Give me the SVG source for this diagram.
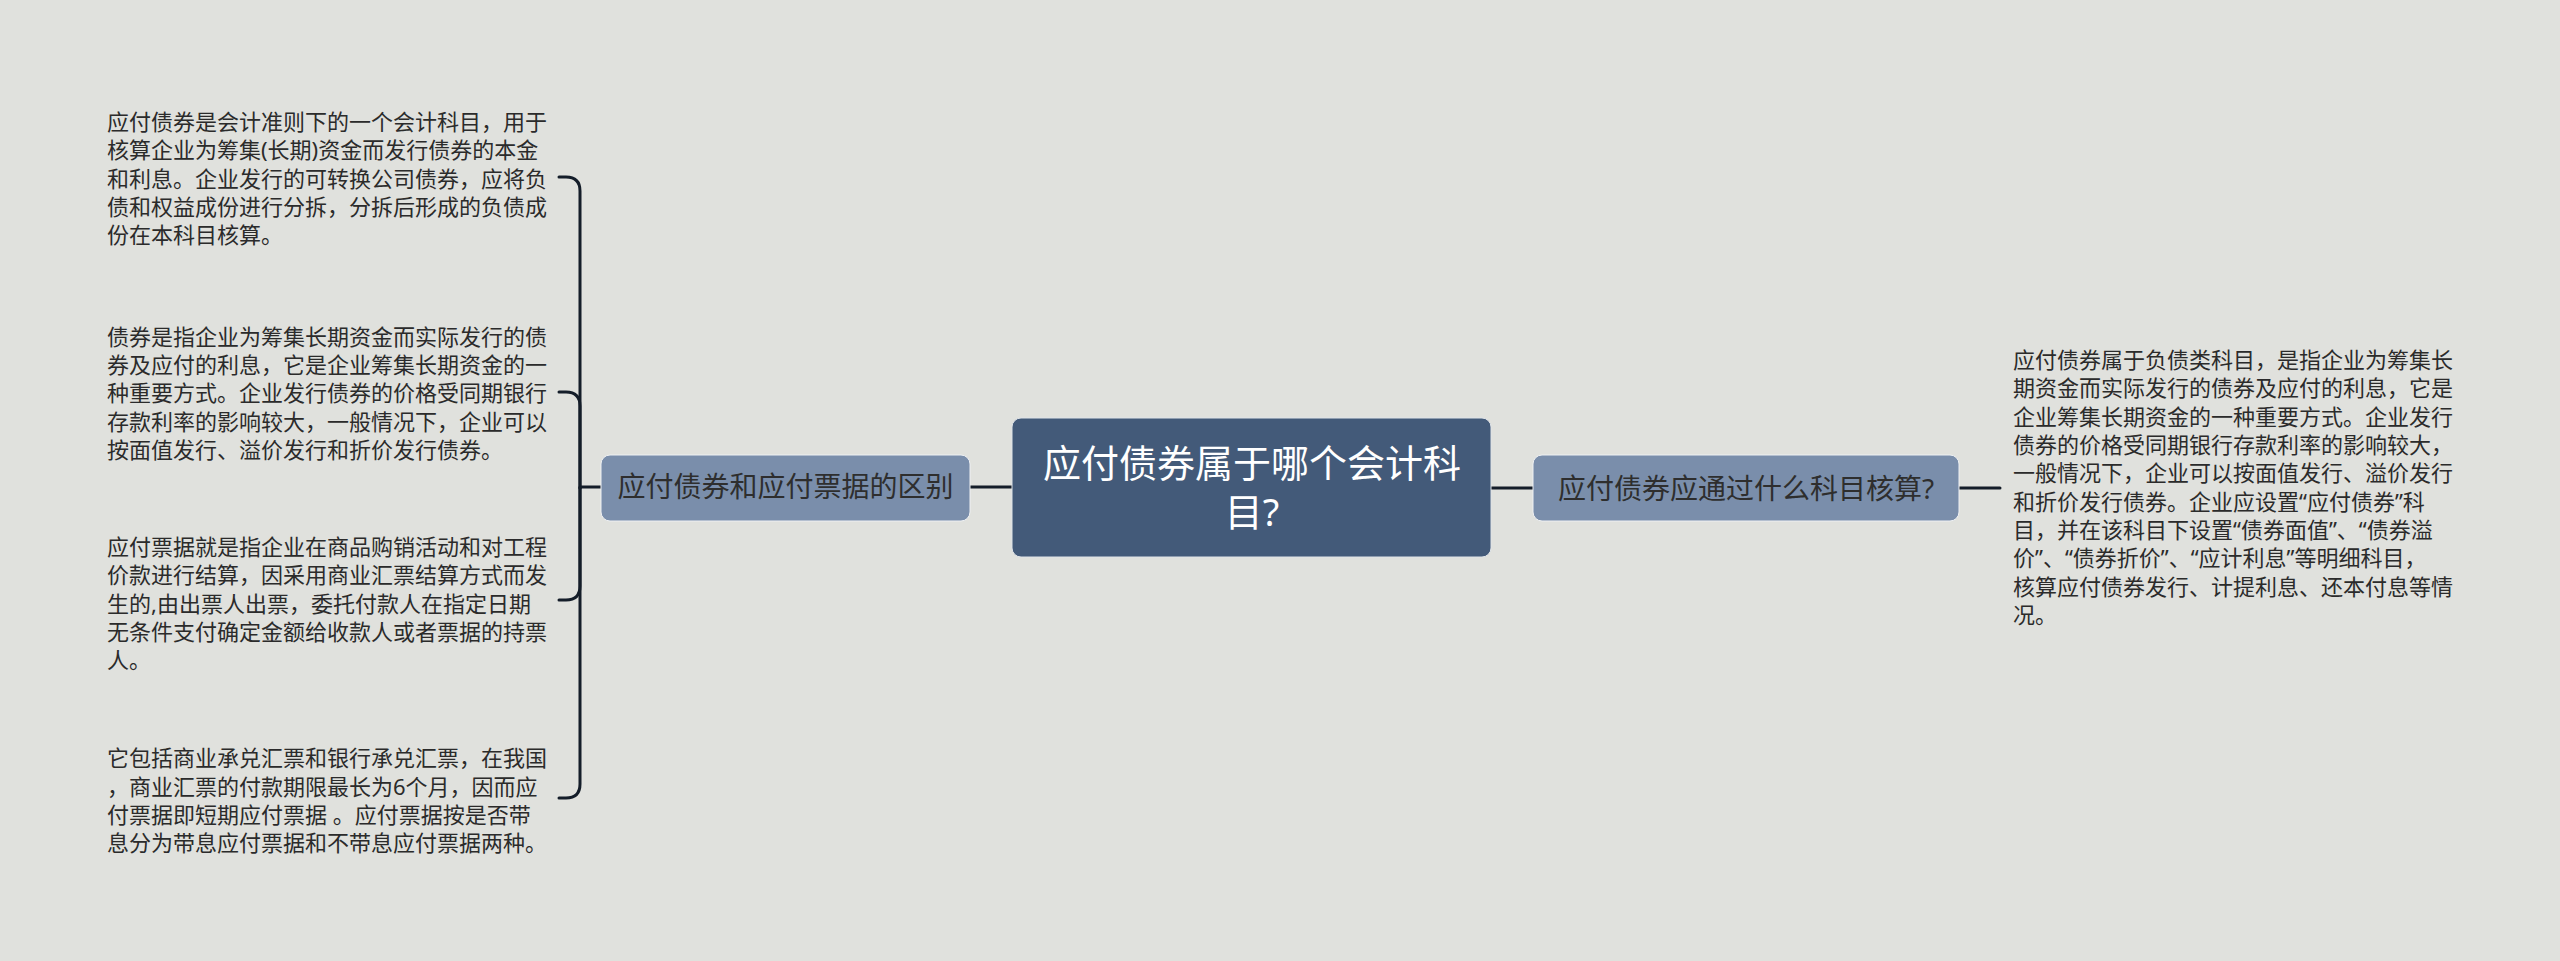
<svg xmlns="http://www.w3.org/2000/svg" width="2560" height="961" viewBox="0 0 2560 961">
<style>
.bg{fill:#e0e1dd}
.conn{fill:none;stroke:#141d29;stroke-width:3;stroke-linecap:round}
.root rect{fill:#435a79;stroke:#dfe3e8;stroke-width:1}
.sub rect{fill:#7a8eab;stroke:#eef0f3;stroke-width:1}
.t{font-family:"Noto Sans","Noto Sans CJK SC",sans-serif}
.rt{fill:#ffffff;font-size:38px}
.st{fill:#2e2e2e;font-size:28px}
.body{fill:#2b2b2b;font-size:22px}
</style>
<rect class="bg" x="0" y="0" width="2560" height="961"/>
<g id="connectors">
<path class="conn" d="M1012,487 H970"/>
<path class="conn" d="M601,487 H580"/>
<path class="conn" d="M580,488 V191 Q580,177 566,177 H559"/>
<path class="conn" d="M580,488 V406 Q580,392 566,392 H559"/>
<path class="conn" d="M580,488 V586 Q580,600 566,600 H559"/>
<path class="conn" d="M580,488 V784 Q580,798 566,798 H559"/>
<path class="conn" d="M1491,488 H1533"/>
<path class="conn" d="M1959,488 H2000"/>
</g>
<g id="root" class="root">
<rect x="1012" y="418" width="479" height="139" rx="9"/>
<text class="t rt" text-anchor="middle"><tspan x="1252" y="477">应付债券属于哪个会计科</tspan><tspan x="1252" y="526">目?</tspan></text>
</g>
<g id="left-main" class="sub">
<rect x="601" y="455" width="369" height="66" rx="9"/>
<text class="t st" x="785.5" y="497" text-anchor="middle">应付债券和应付票据的区别</text>
</g>
<g id="right-main" class="sub">
<rect x="1533" y="455" width="426" height="66" rx="9"/>
<text class="t st" x="1746" y="498.5" text-anchor="middle">应付债券应通过什么科目核算?</text>
</g>
<g id="left-text-1">
<text class="t body"><tspan x="107" y="130">应付债券是会计准则下的一个会计科目，用于</tspan><tspan x="107" y="158.3">核算企业为筹集(长期)资金而发行债券的本金</tspan><tspan x="107" y="186.7">和利息。企业发行的可转换公司债券，应将负</tspan><tspan x="107" y="215">债和权益成份进行分拆，分拆后形成的负债成</tspan><tspan x="107" y="243.3">份在本科目核算。</tspan></text>
</g>
<g id="left-text-2">
<text class="t body"><tspan x="107" y="344.5">债券是指企业为筹集长期资金而实际发行的债</tspan><tspan x="107" y="372.8">券及应付的利息，它是企业筹集长期资金的一</tspan><tspan x="107" y="401.2">种重要方式。企业发行债券的价格受同期银行</tspan><tspan x="107" y="429.5">存款利率的影响较大，一般情况下，企业可以</tspan><tspan x="107" y="457.8">按面值发行、溢价发行和折价发行债券。</tspan></text>
</g>
<g id="left-text-3">
<text class="t body"><tspan x="107" y="555">应付票据就是指企业在商品购销活动和对工程</tspan><tspan x="107" y="583.3">价款进行结算，因采用商业汇票结算方式而发</tspan><tspan x="107" y="611.7">生的,由出票人出票，委托付款人在指定日期</tspan><tspan x="107" y="640">无条件支付确定金额给收款人或者票据的持票</tspan><tspan x="107" y="668.3">人。</tspan></text>
</g>
<g id="left-text-4">
<text class="t body"><tspan x="107" y="766.3">它包括商业承兑汇票和银行承兑汇票，在我国</tspan><tspan x="107" y="794.7">，商业汇票的付款期限最长为6个月，因而应</tspan><tspan x="107" y="823">付票据即短期应付票据 。应付票据按是否带</tspan><tspan x="107" y="851.3">息分为带息应付票据和不带息应付票据两种。</tspan></text>
</g>
<g id="right-text">
<text class="t body"><tspan x="2013" y="368">应付债券属于负债类科目，是指企业为筹集长</tspan><tspan x="2013" y="396.3">期资金而实际发行的债券及应付的利息，它是</tspan><tspan x="2013" y="424.7">企业筹集长期资金的一种重要方式。企业发行</tspan><tspan x="2013" y="453">债券的价格受同期银行存款利率的影响较大，</tspan><tspan x="2013" y="481.3">一般情况下，企业可以按面值发行、溢价发行</tspan><tspan x="2013" y="509.7">和折价发行债券。企业应设置“应付债券”科</tspan><tspan x="2013" y="538">目，并在该科目下设置“债券面值”、“债券溢</tspan><tspan x="2013" y="566.3">价”、“债券折价”、“应计利息”等明细科目，</tspan><tspan x="2013" y="594.7">核算应付债券发行、计提利息、还本付息等情</tspan><tspan x="2013" y="623">况。</tspan></text>
</g>
</svg>
